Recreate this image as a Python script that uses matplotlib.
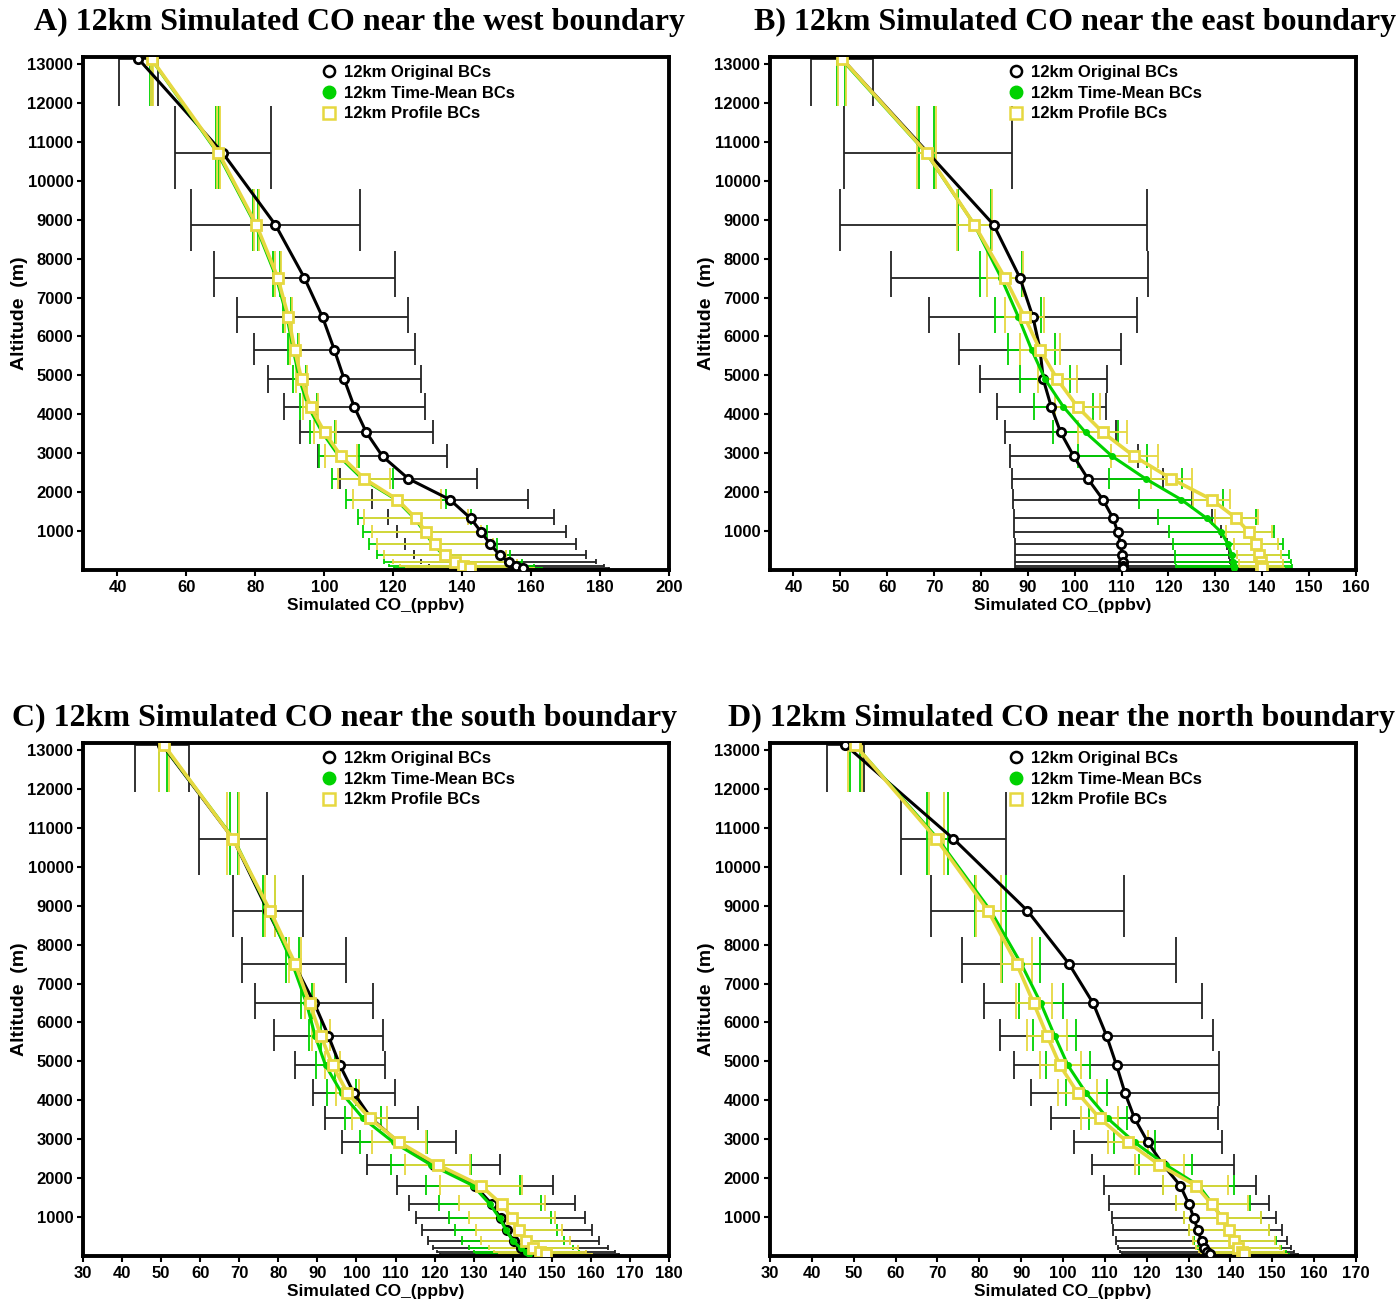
import matplotlib
matplotlib.use('Agg')
import matplotlib.pyplot as plt
from matplotlib.lines import Line2D
import numpy as np

# model level heights (m)
levels = [13130, 10720, 8870, 7510, 6495, 5660, 4895, 4190, 3535, 2920,
          2345, 1810, 1325, 965, 660, 380, 200, 90, 40]

# A) west boundary
west_orig = [46.1, 70.5, 85.8, 94.2, 99.5, 102.9, 105.8, 108.7, 112.2, 116.9,
             124.4, 136.4, 142.5, 145.6, 148.2, 150.9, 153.5, 155.7, 157.5]
west_orig_sd = [5.8, 13.9, 24.5, 26.2, 24.8, 23.4, 22.2, 20.4, 19.2, 18.7,
                19.8, 22.6, 24.0, 24.4, 24.7, 25.0, 25.4, 25.3, 25.0]
west_tmean = [49.8, 69.0, 80.0, 86.1, 89.2, 91.0, 92.8, 95.4, 99.4, 104.3,
              111.0, 120.8, 126.2, 129.2, 131.6, 134.6, 137.4, 139.8, 141.8]
west_tmean_sd = [0.3, 0.4, 0.8, 1.0, 1.1, 1.4, 1.8, 2.4, 3.6, 5.7,
                 8.9, 14.4, 16.5, 17.9, 18.5, 19.3, 20.0, 21.0, 21.5]
west_prof = [49.9, 69.3, 80.3, 86.5, 89.6, 91.4, 93.4, 96.0, 100.1, 104.9,
             111.6, 121.2, 126.6, 129.6, 132.1, 135.0, 137.9, 140.3, 142.3]
west_prof_sd = [0.3, 0.5, 0.7, 0.9, 1.0, 1.3, 1.6, 2.1, 3.2, 4.7,
                7.5, 12.8, 15.1, 15.8, 16.8, 17.6, 17.9, 18.2, 18.5]

# B) east boundary
east_orig = [50.4, 68.7, 82.7, 88.3, 91.1, 92.6, 93.3, 95.0, 97.0, 99.8,
             102.8, 106.0, 108.2, 109.2, 109.8, 110.1, 110.2, 110.3, 110.3]
east_orig_sd = [6.6, 18.0, 32.7, 27.4, 22.2, 17.2, 13.5, 11.6, 11.8, 13.7,
                16.1, 19.1, 21.1, 22.1, 22.6, 22.9, 23.0, 23.1, 23.1]
east_tmean = [50.2, 68.3, 78.6, 84.3, 88.0, 90.8, 93.7, 97.6, 102.3, 108.0,
              115.1, 122.7, 128.2, 131.3, 132.7, 133.5, 133.7, 133.9, 133.9]
east_tmean_sd = [0.9, 1.6, 3.5, 4.5, 4.9, 5.0, 5.3, 6.2, 6.9, 7.4,
                 7.8, 9.0, 10.4, 11.2, 11.8, 12.2, 12.4, 12.4, 12.4]
east_prof = [50.4, 68.4, 78.6, 85.1, 89.3, 92.6, 96.3, 100.6, 106.0, 112.7,
             120.6, 129.2, 134.5, 137.2, 138.6, 139.3, 139.7, 139.8, 140.0]
east_prof_sd = [0.9, 2.0, 3.7, 3.9, 4.1, 4.2, 4.2, 4.8, 5.2, 5.0,
                4.4, 4.0, 4.5, 4.9, 4.7, 4.7, 4.7, 4.7, 4.7]

# C) south boundary
south_orig = [50.3, 68.4, 77.3, 84.0, 89.2, 92.8, 95.8, 99.3, 103.8, 110.8,
              119.8, 130.3, 134.7, 136.9, 138.5, 140.2, 142.0, 143.4, 144.2]
south_orig_sd = [6.9, 8.8, 8.9, 13.3, 15.1, 13.9, 11.6, 10.5, 11.9, 14.6,
                 17.0, 20.0, 21.2, 21.7, 21.8, 22.0, 22.4, 22.7, 22.9]
south_tmean = [50.5, 68.6, 77.6, 83.6, 87.2, 89.4, 92.1, 96.2, 101.7, 109.5,
               119.0, 129.8, 134.2, 136.7, 138.3, 140.1, 142.1, 143.5, 144.2]
south_tmean_sd = [1.1, 1.1, 1.5, 1.7, 1.4, 1.5, 2.4, 3.7, 4.6, 8.6,
                  10.2, 12.1, 13.0, 13.0, 13.1, 13.0, 13.4, 13.4, 13.5]
south_prof = [50.7, 68.4, 77.9, 84.3, 88.0, 90.9, 93.9, 97.7, 103.4, 111.0,
              120.8, 131.8, 137.2, 139.9, 141.6, 143.3, 145.3, 147.0, 148.4]
south_prof_sd = [1.2, 1.5, 1.2, 1.5, 1.1, 2.3, 1.9, 3.0, 4.5, 6.9,
                 8.3, 10.5, 11.0, 11.0, 11.1, 11.3, 11.3, 11.7, 12.0]

# D) north boundary
north_orig = [48.0, 73.8, 91.5, 101.4, 107.2, 110.4, 112.8, 114.8, 117.1, 120.3,
              123.9, 128.0, 130.1, 131.3, 132.2, 133.1, 133.8, 134.5, 135.2]
north_orig_sd = [4.4, 12.5, 23.0, 25.5, 26.1, 25.4, 24.5, 22.5, 20.0, 17.7,
                 16.9, 18.2, 19.2, 19.7, 20.2, 20.5, 20.7, 20.8, 21.0]
north_tmean = [50.3, 70.1, 82.7, 90.0, 94.7, 98.0, 101.2, 105.5, 110.7, 117.1,
               124.5, 132.4, 135.8, 138.1, 139.7, 141.1, 142.2, 143.1, 143.6]
north_tmean_sd = [1.2, 2.5, 3.8, 4.5, 5.2, 5.2, 5.3, 4.9, 4.6, 4.8,
                  6.3, 8.4, 8.9, 9.2, 9.6, 9.8, 10.0, 10.2, 10.3]
north_prof = [50.3, 69.7, 82.1, 88.9, 93.0, 96.2, 99.3, 103.5, 108.8, 115.5,
              123.0, 131.7, 135.6, 138.1, 139.7, 140.9, 141.8, 142.7, 143.2]
north_prof_sd = [1.6, 1.8, 3.0, 3.6, 4.3, 4.7, 4.9, 4.7, 4.4, 4.8,
                 5.8, 7.8, 8.5, 9.2, 9.6, 9.8, 10.0, 10.1, 10.3]

titles = ['A) 12km Simulated CO near the west boundary',
          'B) 12km Simulated CO near the east boundary',
          'C) 12km Simulated CO near the south boundary',
          'D) 12km Simulated CO near the north boundary']
series_labels = ['12km Original BCs', '12km Time-Mean BCs', '12km Profile BCs']

BLACK = '#000000'
GREEN = '#00d200'
YELLOW = '#e6d840'

W, H = 1400, 1315
SANS = ['Liberation Sans', 'DejaVu Sans']

plt.rcParams['font.family'] = SANS


def cap_extents(z):
    """Vertical cap span of each level: halfway to the neighbouring levels."""
    z = np.asarray(z, dtype=float)
    mids = (z[:-1] + z[1:]) / 2
    top = np.concatenate([[z[0] + (z[0] - z[1]) / 2], mids])
    bot = np.concatenate([mids, [0.0]])
    return bot, top


def draw_errbars(ax, x, sd, z, color, lw=1.3):
    x = np.asarray(x)
    sd = np.asarray(sd)
    bot, top = cap_extents(z)
    lo, hi = x - sd, x + sd
    ax.hlines(z, lo, hi, colors=color, lw=lw, zorder=2)
    ax.vlines(lo, bot, top, colors=color, lw=lw, zorder=2)
    ax.vlines(hi, bot, top, colors=color, lw=lw, zorder=2)


def draw_panel(ax, title, orig, orig_sd, tmean, tmean_sd, prof, prof_sd,
               xlim, xticks, title_x, title_y):
    draw_errbars(ax, orig, orig_sd, levels, '#222222')
    draw_errbars(ax, tmean, tmean_sd, levels, GREEN)
    draw_errbars(ax, prof, prof_sd, levels, YELLOW)
    ax.plot(orig, levels, color=BLACK, lw=2.2, marker='o', ms=6,
            mfc='white', mec=BLACK, mew=2, zorder=4)
    ax.plot(tmean, levels, color=GREEN, lw=2.2, marker='o', ms=4,
            mfc=GREEN, mec=GREEN, zorder=5)
    ax.plot(prof, levels, color=YELLOW, lw=2.6, marker='s', ms=7,
            mfc='white', mec=YELLOW, mew=2, zorder=6)

    ax.set_xlim(*xlim)
    ax.set_ylim(0, 13180)
    ax.set_xticks(xticks)
    ax.set_yticks(np.arange(1000, 13001, 1000))
    ax.tick_params(direction='out', length=4, width=1.5, labelsize=12,
                   pad=3)
    for lab in ax.get_xticklabels() + ax.get_yticklabels():
        lab.set_fontweight('bold')
    for sp in ax.spines.values():
        sp.set_linewidth(2.8)

    ax.set_xlabel('Simulated CO_(ppbv)', fontsize=12.5, fontweight='bold')
    ax.xaxis.set_label_coords(0.5, -0.054)
    ax.set_ylabel('Altitude  (m)', fontsize=14, fontweight='bold')
    ax.yaxis.set_label_coords(-0.094, 0.5)

    handles = [
        Line2D([], [], ls='none', marker='o', ms=8, mfc='white', mec=BLACK, mew=1.8),
        Line2D([], [], ls='none', marker='o', ms=9, mfc=GREEN, mec=GREEN),
        Line2D([], [], ls='none', marker='s', ms=9, mfc='white', mec=YELLOW, mew=1.8),
    ]
    ax.legend(handles, series_labels, loc='upper left',
              bbox_to_anchor=(0.405, 0.985), frameon=False,
              handlelength=1.0, handletextpad=0.4, labelspacing=0.35,
              borderpad=0, borderaxespad=0,
              prop={'size': 12, 'weight': 'bold', 'family': SANS})

    ax.figure.text(title_x / W, 1 - title_y / H, title, ha='center',
                   va='center', fontsize=23, fontweight='bold',
                   family='Liberation Serif')


fig = plt.figure(figsize=(14, 13.15), dpi=100)
fig.patch.set_facecolor('white')

ax_w = 586 / W
ax_h = 513 / H
axA = fig.add_axes([83 / W, 1 - 570 / H, ax_w, ax_h])
axB = fig.add_axes([770 / W, 1 - 570 / H, ax_w, ax_h])
axC = fig.add_axes([83 / W, 1 - 1256 / H, ax_w, ax_h])
axD = fig.add_axes([770 / W, 1 - 1256 / H, ax_w, ax_h])

draw_panel(axA, titles[0], west_orig, west_orig_sd, west_tmean, west_tmean_sd,
           west_prof, west_prof_sd, (30, 200), np.arange(40, 201, 20), 360, 22)
draw_panel(axB, titles[1], east_orig, east_orig_sd, east_tmean, east_tmean_sd,
           east_prof, east_prof_sd, (35, 160), np.arange(40, 161, 10), 1075, 22)
draw_panel(axC, titles[2], south_orig, south_orig_sd, south_tmean, south_tmean_sd,
           south_prof, south_prof_sd, (30, 180), np.arange(30, 181, 10), 345, 718)
draw_panel(axD, titles[3], north_orig, north_orig_sd, north_tmean, north_tmean_sd,
           north_prof, north_prof_sd, (30, 170), np.arange(30, 171, 10), 1062, 718)

fig.savefig('out.png', dpi=100, facecolor='white')
plt.close(fig)
